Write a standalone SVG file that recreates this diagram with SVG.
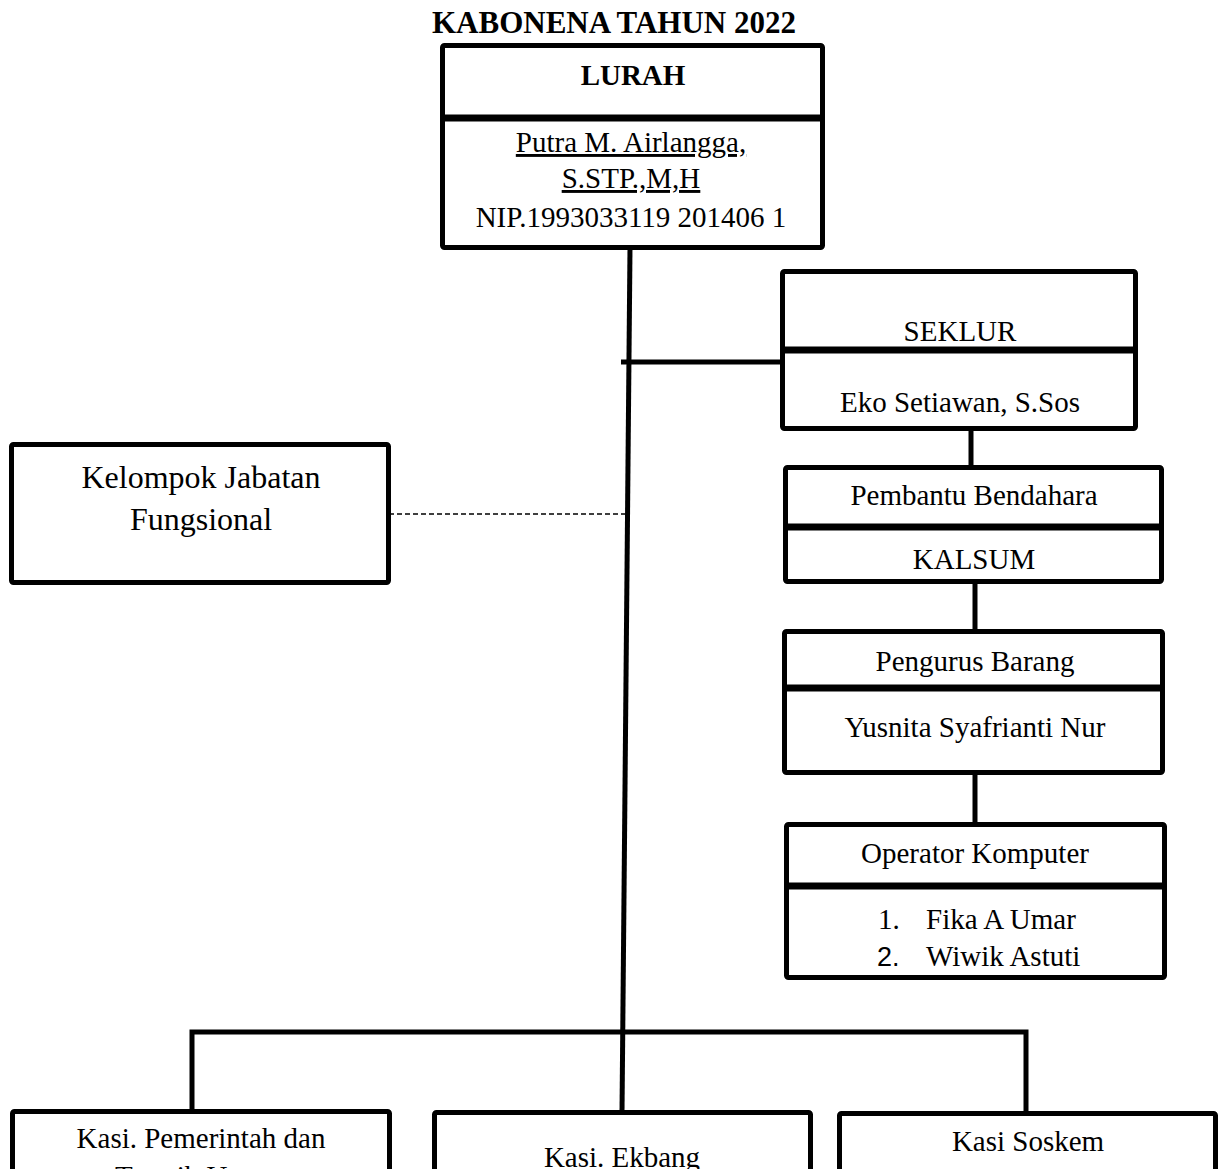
<svg xmlns="http://www.w3.org/2000/svg" width="1221" height="1169" viewBox="0 0 1221 1169">
<style>
  .box { fill: #ffffff; stroke: #000000; stroke-width: 5; }
  .div { stroke: #000000; stroke-width: 7; }
  .ln { stroke: #000000; stroke-width: 5; fill: none; stroke-linecap: butt; }
  .dash { stroke: #000000; stroke-width: 1.5; stroke-dasharray: 5 3; fill: none; }
  text { font-family: "Liberation Serif", "Times New Roman", serif; font-size: 29px; fill: #000000; text-anchor: middle; }
  .b { font-weight: bold; }
  .title { font-weight: bold; font-size: 31px; }
  .big { font-size: 32px; }
  .num { text-anchor: start; }
  .sans { font-family: "Liberation Sans", Arial, sans-serif; font-size: 27px; text-anchor: start; }
  .st { text-anchor: start; }
  .u { text-decoration: underline; text-decoration-skip-ink: none; }
</style>
<rect width="1221" height="1169" fill="#ffffff"/>
<text class="title" x="614" y="33">KABONENA TAHUN 2022</text>

<g id="connectors">
  <line class="ln" x1="630" y1="248" x2="622" y2="1112"/>
  <line class="ln" x1="621" y1="362" x2="782" y2="362"/>
  <line class="dash" x1="389" y1="514" x2="627" y2="514"/>
  <line class="ln" x1="971" y1="430" x2="971" y2="466"/>
  <line class="ln" x1="975" y1="583" x2="975" y2="630"/>
  <line class="ln" x1="975" y1="774" x2="975" y2="823"/>
  <polyline class="ln" points="192,1111 192,1032 1026,1032 1026,1113"/>
</g>

<g id="lurah">
  <rect class="box" x="442.5" y="45.5" width="380" height="202" rx="2"/>
  <line class="div" x1="442.5" y1="118" x2="822.5" y2="118"/>
  <text class="b" x="633" y="85">LURAH</text>
  <text class="u" x="631" y="152">Putra M. Airlangga,</text>
  <text class="u" x="631" y="188">S.STP.,M,H</text>
  <text x="631" y="227">NIP.1993033119 201406 1</text>
</g>

<g id="seklur">
  <rect class="box" x="782.5" y="271.5" width="353" height="157" rx="2"/>
  <line class="div" x1="782.5" y1="350" x2="1135.5" y2="350"/>
  <text x="960" y="341">SEKLUR</text>
  <text x="960" y="412">Eko Setiawan, S.Sos</text>
</g>

<g id="pembantu-bendahara">
  <rect class="box" x="785.5" y="467.5" width="376" height="114" rx="2"/>
  <line class="div" x1="785.5" y1="527" x2="1161.5" y2="527"/>
  <text x="974" y="505">Pembantu Bendahara</text>
  <text x="974" y="569">KALSUM</text>
</g>

<g id="pengurus-barang">
  <rect class="box" x="784.5" y="631.5" width="378" height="141" rx="2"/>
  <line class="div" x1="784.5" y1="688" x2="1162.5" y2="688"/>
  <text x="975" y="671">Pengurus Barang</text>
  <text x="975" y="737">Yusnita Syafrianti Nur</text>
</g>

<g id="operator-komputer">
  <rect class="box" x="786.5" y="824.5" width="378" height="153" rx="2"/>
  <line class="div" x1="786.5" y1="886" x2="1164.5" y2="886"/>
  <text x="975" y="863">Operator Komputer</text>
  <text class="num" x="878" y="929">1.</text>
  <text class="st" x="926" y="929">Fika A Umar</text>
  <text class="sans" x="877" y="966">2.</text>
  <text class="st" x="926" y="966">Wiwik Astuti</text>
</g>

<g id="kelompok-jabatan-fungsional">
  <rect class="box" x="11.5" y="444.5" width="377" height="138" rx="2"/>
  <text class="big" x="201" y="488">Kelompok Jabatan</text>
  <text class="big" x="201" y="530">Fungsional</text>
</g>

<g id="kasi-pemerintah">
  <rect class="box" x="12.5" y="1111.5" width="377" height="100" rx="2"/>
  <text x="201" y="1148">Kasi. Pemerintah dan</text>
  <text x="201" y="1186">Trantib Umum</text>
</g>

<g id="kasi-ekbang">
  <rect class="box" x="434.5" y="1112.5" width="376" height="100" rx="2"/>
  <text x="622" y="1167">Kasi. Ekbang</text>
</g>

<g id="kasi-soskem">
  <rect class="box" x="839.5" y="1113.5" width="376" height="100" rx="2"/>
  <text x="1028" y="1151">Kasi Soskem</text>
</g>
</svg>
